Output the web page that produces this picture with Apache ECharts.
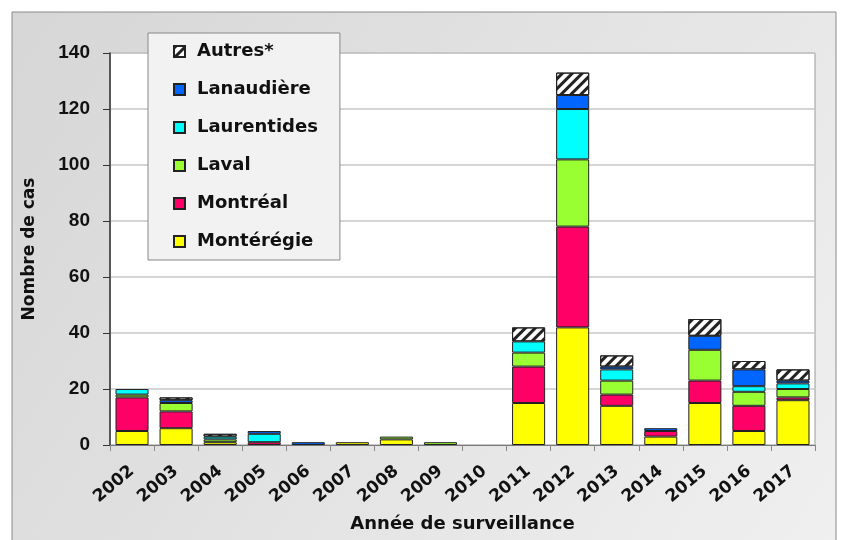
<!DOCTYPE html>
<html>
<head>
<meta charset="utf-8">
<script src="https://cdn.jsdelivr.net/npm/echarts@6/dist/echarts.min.js"></script>
<style>
html,body{margin:0;padding:0;background:#fff;}
#cas{width:844px;height:540px;}
</style>
</head>
<body>
<div id="cas"></div>
<script>
var annees = ['2002','2003','2004','2005','2006','2007','2008','2009','2010','2011','2012','2013','2014','2015','2016','2017'];
var monteregie  = [5, 6, 1, 0, 0, 1, 2, 0, 0, 15, 42, 14, 3, 15, 5, 16];
var montreal    = [12, 6, 0, 1, 0, 0, 0, 0, 0, 13, 36, 4, 2, 8, 9, 1];
var laval       = [1, 3, 1, 0, 0, 0, 1, 1, 0, 5, 24, 5, 0, 11, 5, 3];
var laurentides = [2, 0, 1, 3, 0, 0, 0, 0, 0, 4, 18, 4, 0, 0, 2, 2];
var lanaudiere  = [0, 1, 0, 1, 1, 0, 0, 0, 0, 0, 5, 1, 1, 5, 6, 1];
var autres      = [0, 1, 1, 0, 0, 0, 0, 0, 0, 5, 8, 4, 0, 6, 3, 4];
var yTicks = [0, 20, 40, 60, 80, 100, 120, 140];

var mychart = echarts.init(document.getElementById('cas'));
var police = 'DejaVu Sans, Liberation Sans, Arial, sans-serif';

function serie(nom, valeurs, couleur, decal) {
    var s = {
        name: nom,
        type: 'bar',
        stack: 'cas',
        barWidth: '75%',
        // les zéros ne sont pas dessinés
        data: valeurs.map(function (v) { return v === 0 ? '-' : v; }),
        itemStyle: {
            color: couleur,
            borderColor: '#222',
            borderWidth: 1
        }
    };
    if (decal) {
        s.itemStyle.decal = {
            symbol: 'rect',
            symbolSize: 1,
            color: '#222',
            dashArrayX: [1, 0],
            dashArrayY: [3, 4],
            rotation: -Math.PI / 4
        };
    }
    return s;
}

option = {
    backgroundColor: '#fff',
    animation: false,
    textStyle: {
        fontFamily: police
    },
    graphic: [
        {
            type: 'rect',
            z: -10,
            silent: true,
            shape: { x: 12, y: 12, width: 824, height: 540 },
            style: {
                fill: new echarts.graphic.LinearGradient(0, 0, 1, 1, [
                    { offset: 0, color: '#d6d6d6' },
                    { offset: 1, color: '#f0f0f0' }
                ]),
                stroke: '#8a8a8a',
                lineWidth: 1
            }
        }
    ],
    grid: {
        left: 110,
        right: 29,
        top: 53,
        bottom: 95,
        show: true,
        backgroundColor: '#fff',
        borderColor: '#9a9a9a',
        borderWidth: 1
    },
    legend: {
        orient: 'vertical',
        left: 148,
        top: 33,
        padding: [8, 22, 8, 25],
        icon: 'rect',
        itemWidth: 11,
        itemHeight: 11,
        itemGap: 17,
        backgroundColor: '#f2f2f2',
        borderColor: '#888',
        borderWidth: 1,
        data: ['Autres*', 'Lanaudière', 'Laurentides', 'Laval', 'Montréal', 'Montérégie'],
        textStyle: {
            fontFamily: police,
            fontSize: 18,
            fontWeight: 'bold',
            color: '#111',
            lineHeight: 21,
            padding: [0, 0, 0, 7]
        }
    },
    xAxis: {
        type: 'category',
        data: annees,
        name: 'Année de surveillance',
        nameLocation: 'middle',
        nameGap: 70,
        nameTextStyle: { fontFamily: police, fontSize: 18, fontWeight: 'bold', color: '#111' },
        axisLine: { lineStyle: { color: '#777', width: 1 } },
        axisTick: { show: true, length: 6, lineStyle: { color: '#888' } },
        axisLabel: {
            rotate: 40,
            fontFamily: police,
            fontSize: 17,
            fontWeight: 'bold',
            color: '#111',
            margin: 24
        }
    },
    yAxis: {
        type: 'value',
        min: 0,
        max: 140,
        interval: 20,
        name: 'Nombre de cas',
        nameLocation: 'middle',
        nameGap: 72,
        nameTextStyle: { fontFamily: police, fontSize: 17, fontWeight: 'bold', color: '#111' },
        axisLine: { show: true, lineStyle: { color: '#333', width: 1.5 } },
        axisTick: { show: true, length: 7, lineStyle: { color: '#333' } },
        splitLine: { lineStyle: { color: '#c8c8c8', width: 1.5 } },
        axisLabel: {
            fontFamily: 'Liberation Sans, Arial, sans-serif',
            fontSize: 19,
            fontWeight: 'bold',
            color: '#111',
            margin: 20,
            formatter: function (v) { return yTicks.indexOf(v) >= 0 ? String(v) : ''; }
        }
    },
    series: [
        serie('Montérégie', monteregie, '#ffff00'),
        serie('Montréal', montreal, '#ff0066'),
        serie('Laval', laval, '#99ff33'),
        serie('Laurentides', laurentides, '#00ffff'),
        serie('Lanaudière', lanaudiere, '#0066ff'),
        serie('Autres*', autres, '#ffffff', true)
    ]
};
mychart.setOption(option, true);
</script>
</body>
</html>
